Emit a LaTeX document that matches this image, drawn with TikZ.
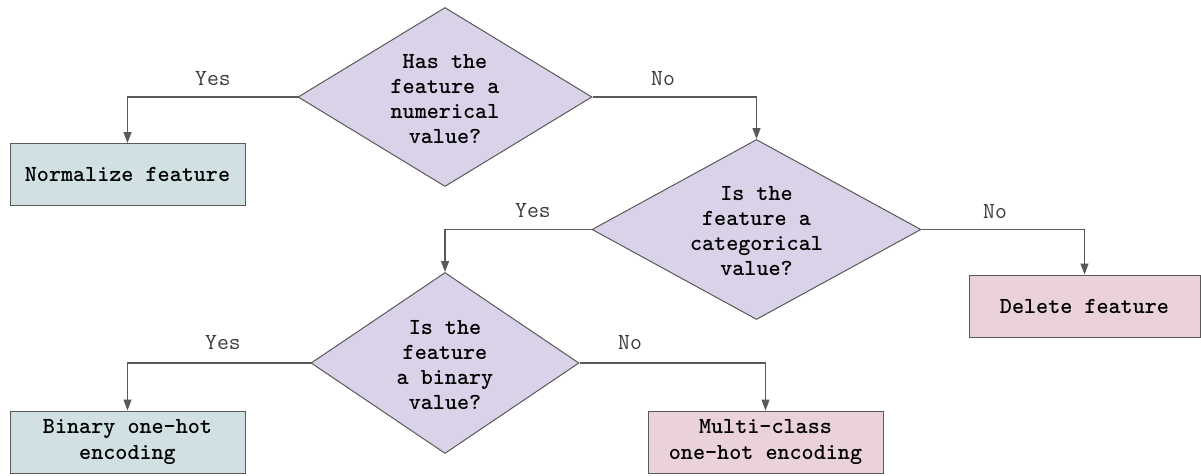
\documentclass[tikz,border=0pt]{standalone}
\usepackage{fontspec}
\usetikzlibrary{shapes.geometric,arrows.meta}
\definecolor{linegray}{HTML}{595959}
\definecolor{lav}{HTML}{D9D2E9}
\definecolor{bluebox}{HTML}{D0E0E3}
\definecolor{pinkbox}{HTML}{EAD1DC}
\definecolor{labgray}{HTML}{3C3C3C}
\tikzset{
  dec/.style={diamond, draw=linegray, line width=1pt, fill=lav, inner sep=0pt},
  dtext/.style={align=center, inner sep=0pt, font=\ttfamily\bfseries\fontsize{23}{25}\selectfont},
  outbox/.style={draw=linegray, line width=1pt, minimum height=62pt, align=center, inner sep=0pt,
     font=\ttfamily\bfseries\fontsize{23}{25.5}\selectfont},
  conn/.style={draw=linegray, line width=1.2pt, -{Triangle[length=11pt,width=8pt]}},
  ans/.style={text=labgray, inner sep=0pt, font=\ttfamily\fontsize{23}{24}\selectfont}
}
\begin{document}
\begin{tikzpicture}[x=1pt,y=-1pt]
\useasboundingbox[fill=white] (0,0) rectangle (1201,475);
% decisions
\node[dec, minimum width=294pt, minimum height=179pt] (d1) at (445,97) {};
\node[dtext] (d1t) at (445,99) {Has the\\feature a\\numerical\\value?};
\node[dec, minimum width=329pt, minimum height=180pt] (d2) at (756.5,229.5) {};
\node[dtext] (d2t) at (756.5,231) {Is the\\feature a\\categorical\\value?};
\node[dec, minimum width=268pt, minimum height=181pt] (d3) at (445,363) {};
\node[dtext] (d3t) at (445,365) {Is the\\feature\\a binary\\value?};
% outcomes
\node[outbox, fill=bluebox, minimum width=235pt] (norm) at (127.5,174.5) {Normalize feature};
\node[outbox, fill=pinkbox, minimum width=231pt] (del) at (1084.5,306) {Delete feature};
\node[outbox, fill=bluebox, minimum width=235pt] (bin) at (127.5,442) {Binary one-hot\\encoding};
\node[outbox, fill=pinkbox, minimum width=235pt] (multi) at (765.5,442) {Multi-class\\one-hot encoding};
% connectors
\draw[conn] (d1.west) -| (norm.north);
\draw[conn] (d1.east) -| (d2.north);
\draw[conn] (d2.west) -| (d3.north);
\draw[conn] (d2.east) -| (del.north);
\draw[conn] (d3.west) -| (bin.north);
\draw[conn] (d3.east) -| (multi.north);
% labels
\node[ans] (l1) at (213,79) {Yes};
\node[ans] (l2) at (663,79) {No};
\node[ans] (l3) at (533,211) {Yes};
\node[ans] (l4) at (995,212) {No};
\node[ans] (l5) at (223,343) {Yes};
\node[ans] (l6) at (630,343) {No};
\end{tikzpicture}
\end{document}
